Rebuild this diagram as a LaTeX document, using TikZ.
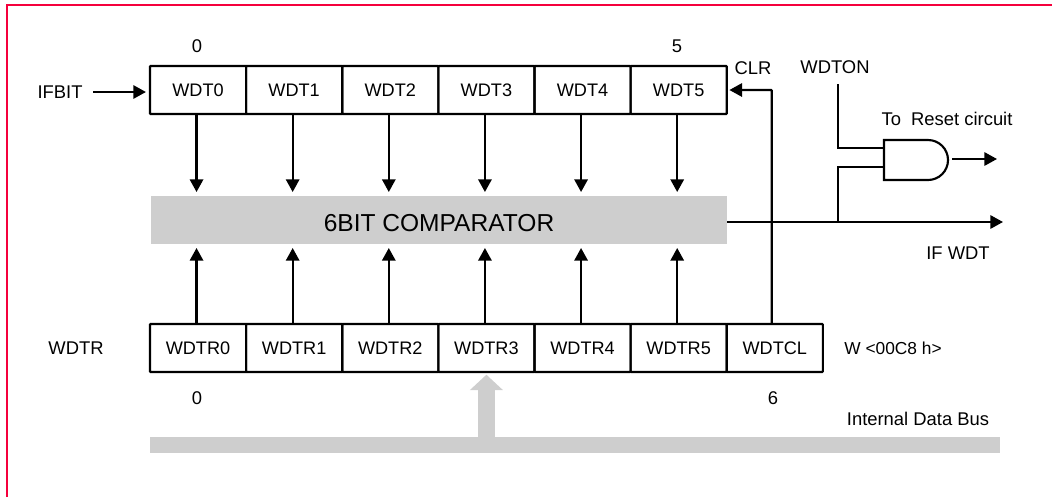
\documentclass[tikz,border=0pt]{standalone}
\usepackage{fontspec}
\setmainfont{Liberation Sans}
\usetikzlibrary{arrows.meta,positioning,calc}
\definecolor{barGray}{RGB}{206,206,206}
\definecolor{frameRed}{RGB}{245,0,60}

\begin{document}
\begin{tikzpicture}[
    x=0.75pt, y=-0.75pt,
    every node/.style={font=\fontsize{13.6}{15}\selectfont, text=black},
    cell/.style={rectangle, draw=black, line width=1.6pt, minimum height=36pt,
                 minimum width=72.1pt, inner sep=0pt, outer sep=0pt, rounded corners=0.5pt},
    lbl/.style={inner sep=0pt, font=\fontsize{13.8}{15}\selectfont},
    arr/.style={-{Triangle[length=9.5pt,width=10pt]}, draw=black, line width=1.6pt},
    wire/.style={draw=black, line width=1.6pt},
    gray bar/.style={rectangle, fill=barGray, inner sep=0pt, outer sep=0pt},
]
\useasboundingbox (0,0) rectangle (1052,497);

% Frame
\draw[frameRed, line width=2pt] (7,497) -- (7,5) -- (1052,5);

% Top register
\node[cell] (wdt0) at (198,90) {WDT0};
\foreach \i [remember=\i as \p (initially 0)] in {1,...,5}
  \node[cell, right=0pt of wdt\p] (wdt\i) {WDT\i};

% Bottom register
\node[cell] (wdtr0) at (198,348) {WDTR0};
\foreach \i [remember=\i as \p (initially 0)] in {1,...,5}
  \node[cell, right=0pt of wdtr\p] (wdtr\i) {WDTR\i};
\node[cell, right=0pt of wdtr5] (wdtcl) {WDTCL};

% Comparator and bus
\node[gray bar, minimum width=432pt, minimum height=36pt, text height=17pt, text depth=0pt,
      font=\fontsize{18.4}{20}\selectfont] (cmp) at (439,220) {6BIT COMPARATOR};
\node[gray bar, minimum width=637.5pt, minimum height=12pt] (bus) at (575,445) {};

% Gate
\coordinate (andin1) at (884,148);
\coordinate (andin2) at (884,167);
\draw[wire] (884,140) -- (928,140) arc[start angle=-90, end angle=90, radius=20] -- (884,180) -- cycle;

% Labels
\node[lbl] (topzero) at (197,46) {0};
\node[lbl] (topfive) at (677,46) {5};
\node[lbl] (ifbit) at (60,92) {IFBIT};
\node[lbl] (clr) at (753,68) {CLR};
\node[lbl] (wdton) at (835,67) {WDTON};
\node[lbl] (reset) at (947,119) {To\ \ Reset circuit};
\node[lbl] (ifwdt) at (958,253) {IF WDT};
\node[lbl] (wdtr) at (76,348) {WDTR};
\node[lbl, font=\fontsize{13}{15}\selectfont] (waddr) at (893,348) {W <00C8 h>};
\node[lbl] (botzero) at (197,398) {0};
\node[lbl] (botsix) at (773,398) {6};
\node[lbl] (busname) at (918,419) {Internal Data Bus};

% Arrows between registers and comparator
\foreach \i in {0,...,5} {
  \draw[arr, shorten >=3pt] ([xshift=-1.1pt]wdt\i.south) -- ([xshift=-1.1pt]wdt\i.south |- cmp.north);
  \draw[arr, shorten >=3pt] ([xshift=-1.1pt]wdtr\i.north) -- ([xshift=-1.1pt]wdtr\i.north |- cmp.south);
}

% Input and clear
\draw[arr] ([xshift=8pt]ifbit.east) -- ($(wdt0.west |- ifbit.east)+(-3pt,0)$);
\draw[arr, rounded corners=0.5pt, shorten >=2pt] ([xshift=-2.25pt]wdtcl.north) |- (wdt5.east);

% Comparator output and gate inputs
\coordinate (tap) at (838,222);
\coordinate (out) at (1003,222);
\draw[arr] (cmp.east |- tap) -- (out);
\draw[wire] (tap) |- (andin2);
\draw[wire] ([yshift=-8pt]wdton.south -| tap) |- (andin1);
\coordinate (rststart) at (952,159);
\coordinate (rst) at (997,159);
\draw[arr] (rststart) -- (rst);

% Bus to WDTR
\draw[-{Triangle[length=11.5pt,width=24pt]}, draw=barGray, fill=barGray, line width=12.6pt,
      shorten >=2pt] (bus.north -| wdtr3.south) -- (wdtr3.south);
\end{tikzpicture}
\end{document}
